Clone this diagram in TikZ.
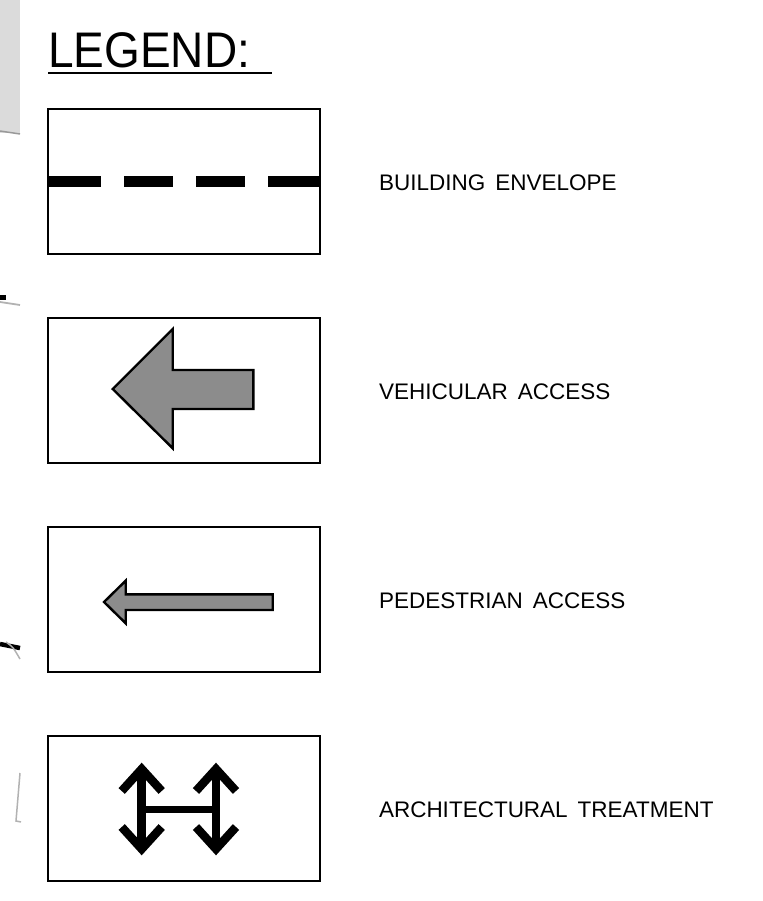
\documentclass[tikz,border=0pt]{standalone}
\usepackage{fontspec}
\setmainfont{Liberation Sans}
\usetikzlibrary{positioning}

\begin{document}
\begin{tikzpicture}[x=1pt,y=-1pt,
		boxstyle/.style={rectangle,draw,line width=1.6pt,minimum width=272pt,minimum height=145pt,inner sep=0pt},
		labelstyle/.style={inner sep=0pt,font=\fontsize{22.5}{22.5}\selectfont},
		arrowstyle/.style={draw,fill=black!45,line width=2.4pt,line join=miter},
		treatstyle/.style={line width=8.5pt,line join=miter}]
	\useasboundingbox (0,0) rectangle (762,901);
	
	% bits of the plan at the left edge
	\fill[black!14] (0,0) rectangle (20,133);
	\draw[black!40,line width=1.5pt] (0,131) -- (20,134);
	\fill (0,295) rectangle (6,300);
	\draw[black!30,line width=1.8pt] (0,302) -- (20,305);
	\draw[line width=4.5pt] (0,644) -- (20,648);
	\draw[black!30,line width=1.5pt] (6,642) .. controls (13,647) .. (20,659);
	\draw[black!30,line width=1.5pt] (20,773) -- (16,821) -- (21,822);
	
	% title
	\node[inner sep=0pt,anchor=base west,font=\fontsize{50}{50}\selectfont] (title) at (48,68) {\scalebox{0.92}[1]{LEGEND:}};
	\draw[line width=2.4pt] (48,73) -- (272,73);
	
	% boxes and texts
	\foreach \i/\txt in {1/BUILDING ENVELOPE,2/VEHICULAR ACCESS,3/PEDESTRIAN ACCESS,4/ARCHITECTURAL TREATMENT}
	{\pgfmathsetmacro{\yy}{181.5+209*(\i-1)}
		\node[boxstyle] (b\i) at (184,\yy) {};
		\node[labelstyle,right=58pt of b\i,yshift=-1.5pt] (t\i) {\spaceskip=10pt\relax\txt};}
	
	% building envelope
	\foreach \a/\b in {48/101,124/173,196/245,268/320}
	\fill (\a,176) rectangle (\b,187);
	
	% vehicular access
	\path[arrowstyle] (112.7,389) -- (172.7,329) -- (172.7,370) -- (253.3,370) -- (253.3,409)
		-- (172.7,409) -- (172.7,448.3) -- cycle;
	
	% pedestrian access
	\path[arrowstyle] (104,602) -- (125.7,580.7) -- (125.7,594.3) -- (272.7,594.3) -- (272.7,610)
		-- (125.7,610) -- (125.7,623.3) -- cycle;
	
	% architectural treatment
	\foreach \x in {141.7,216}
	{\draw[treatstyle] (\x-20,791) -- (\x,769) -- (\x+20,791);
		\draw[treatstyle] (\x,769) -- (\x,849);
		\draw[treatstyle] (\x-20,827) -- (\x,849) -- (\x+20,827);}
	\draw[line width=6.5pt] (141.7,809.5) -- (216,809.5);
\end{tikzpicture}
\end{document}
